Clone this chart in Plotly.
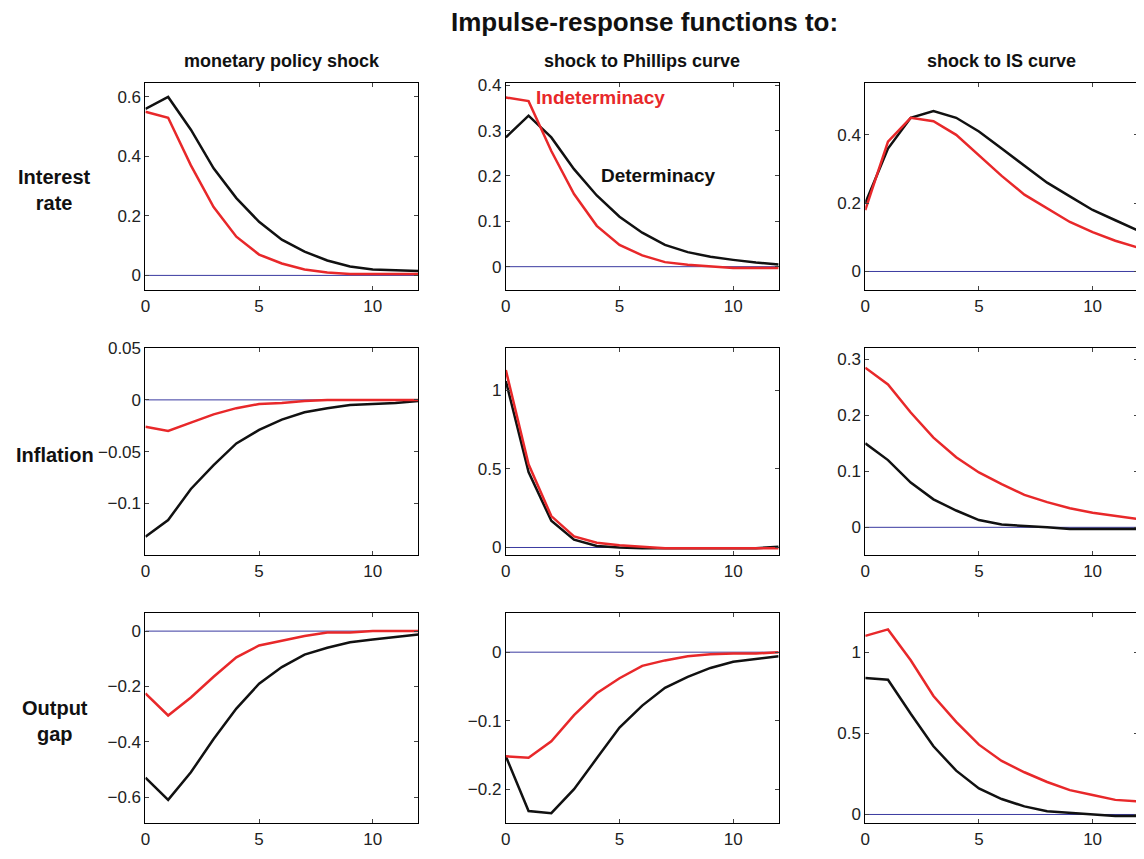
import plotly.graph_objects as go

W, H = 1144, 859
t = list(range(13))

# [row][col] -> (determinacy, indeterminacy)
det = [
    [[0.56,0.60,0.49,0.36,0.26,0.18,0.12,0.08,0.05,0.03,0.02,0.018,0.015],
     [0.285,0.333,0.285,0.215,0.157,0.11,0.075,0.048,0.032,0.022,0.015,0.009,0.005],
     [0.2,0.36,0.45,0.47,0.45,0.41,0.36,0.31,0.26,0.22,0.18,0.15,0.12]],
    [[-0.132,-0.116,-0.086,-0.063,-0.042,-0.029,-0.019,-0.012,-0.008,-0.005,-0.004,-0.003,-0.001],
     [1.06,0.48,0.17,0.05,0.01,0.0,-0.005,-0.005,-0.005,-0.005,-0.005,-0.005,0.005],
     [0.15,0.12,0.08,0.05,0.03,0.013,0.005,0.003,0.0,-0.003,-0.003,-0.003,-0.003]],
    [[-0.53,-0.61,-0.51,-0.39,-0.28,-0.19,-0.13,-0.085,-0.06,-0.04,-0.03,-0.02,-0.012],
     [-0.152,-0.232,-0.235,-0.2,-0.155,-0.11,-0.078,-0.052,-0.036,-0.023,-0.014,-0.01,-0.006],
     [0.84,0.83,0.62,0.42,0.27,0.16,0.095,0.05,0.02,0.01,0.0,-0.01,-0.01]],
]
ind = [
    [[0.55,0.53,0.37,0.23,0.13,0.07,0.04,0.02,0.01,0.005,0.005,0.005,0.005],
     [0.373,0.365,0.255,0.16,0.09,0.048,0.025,0.01,0.004,0.001,-0.003,-0.003,-0.003],
     [0.18,0.38,0.45,0.44,0.40,0.34,0.28,0.225,0.185,0.145,0.115,0.09,0.07]],
    [[-0.026,-0.03,-0.022,-0.014,-0.008,-0.004,-0.003,-0.001,0,0,0,0,0],
     [1.13,0.53,0.2,0.07,0.03,0.015,0.005,-0.005,-0.005,-0.005,-0.005,-0.005,-0.005],
     [0.285,0.255,0.205,0.16,0.125,0.098,0.077,0.058,0.045,0.034,0.026,0.02,0.015]],
    [[-0.225,-0.305,-0.24,-0.165,-0.095,-0.052,-0.035,-0.018,-0.005,-0.005,0.0,0.0,0.0],
     [-0.152,-0.154,-0.13,-0.092,-0.06,-0.038,-0.02,-0.012,-0.006,-0.003,-0.002,-0.002,0.0],
     [1.1,1.14,0.95,0.73,0.57,0.43,0.33,0.26,0.2,0.15,0.12,0.09,0.08]],
]
yranges = [
    [[-0.05,0.647],[-0.052,0.405],[-0.055,0.552]],
    [[-0.15,0.05],[-0.05,1.27],[-0.05,0.32]],
    [[-0.695,0.065],[-0.25,0.057],[-0.055,1.24]],
]
yticks = [
    [[0,0.2,0.4,0.6],[0,0.1,0.2,0.3,0.4],[0,0.2,0.4]],
    [[-0.1,-0.05,0,0.05],[0,0.5,1],[0,0.1,0.2,0.3]],
    [[-0.6,-0.4,-0.2,0],[-0.2,-0.1,0],[0,0.5,1]],
]
col_titles = ["monetary policy shock", "shock to Phillips curve", "shock to IS curve"]
row_titles = ["Interest<br>rate", "Inflation", "Output<br>gap"]

def fx(p):  # compensate observed render offset
    return (p - 10) / W
def fy(p):
    return 1 - (p - 15.8) / 0.9906 / H

xpx = [(143,417),(505,779),(866,1140)]
ypx = [(82,290),(348,556),(614,825)]
FONT = "Liberation Sans, Arial, sans-serif"

fig = go.Figure()
layout = {}
for r in range(3):
    for c in range(3):
        k = r*3 + c + 1
        xa = "xaxis" if k == 1 else f"xaxis{k}"
        ya = "yaxis" if k == 1 else f"yaxis{k}"
        xr = "x" if k == 1 else f"x{k}"
        yr = "y" if k == 1 else f"y{k}"
        layout[xa] = dict(domain=[fx(xpx[c][0]), fx(xpx[c][1])], anchor=yr, range=[0,12],
                          tickvals=[0,5,10], ticks="inside", ticklen=4, mirror="ticks",
                          showline=True, linecolor="black", linewidth=1, showgrid=False,
                          zeroline=False, tickfont=dict(size=17, color="#222"))
        layout[ya] = dict(domain=[fy(ypx[r][1]), fy(ypx[r][0])], anchor=xr, range=yranges[r][c],
                          tickvals=yticks[r][c], ticks="inside", ticklen=4, mirror="ticks",
                          showline=True, linecolor="black", linewidth=1, showgrid=False,
                          zeroline=False, tickfont=dict(size=17, color="#222"))
        fig.add_trace(go.Scatter(x=[0,12], y=[0,0], mode="lines", xaxis=xr, yaxis=yr,
                                 line=dict(color="#3a3aa0", width=1), showlegend=False))
        fig.add_trace(go.Scatter(x=t, y=det[r][c], mode="lines", xaxis=xr, yaxis=yr,
                                 line=dict(color="#111111", width=2.5), showlegend=False))
        fig.add_trace(go.Scatter(x=t, y=ind[r][c], mode="lines", xaxis=xr, yaxis=yr,
                                 line=dict(color="#e8282a", width=2.5), showlegend=False))

ann = [dict(text="<b>Impulse-response functions to:</b>", x=fx(644), y=fy(21), xref="paper", yref="paper",
            xanchor="center", yanchor="middle", showarrow=False, font=dict(size=26, color="#111"))]
for c in range(3):
    ann.append(dict(text=f"<b>{col_titles[c]}</b>", x=fx((xpx[c][0]+xpx[c][1])/2), y=fy(60),
                    xref="paper", yref="paper", xanchor="center", yanchor="middle",
                    showarrow=False, font=dict(size=18, color="#111")))
for r in range(3):
    ann.append(dict(text=f"<b>{row_titles[r]}</b>", x=fx(52), y=fy((ypx[r][0]+ypx[r][1])/2 + 3),
                    xref="paper", yref="paper", xanchor="center", yanchor="middle",
                    showarrow=False, font=dict(size=20, color="#111")))
ann.append(dict(text="<b>Indeterminacy</b>", x=1.25, y=0.373, xref="x2", yref="y2", xanchor="left",
                yanchor="middle", showarrow=False, font=dict(size=19, color="#e8282a")))
ann.append(dict(text="<b>Determinacy</b>", x=4.1, y=0.2, xref="x2", yref="y2", xanchor="left",
                yanchor="middle", showarrow=False, font=dict(size=19, color="#111")))

fig.update_layout(width=W, height=H, margin=dict(l=0, r=0, t=0, b=0), plot_bgcolor="white",
                  paper_bgcolor="white", font=dict(family=FONT), annotations=ann, **layout)
fig.write_html("out.html")
